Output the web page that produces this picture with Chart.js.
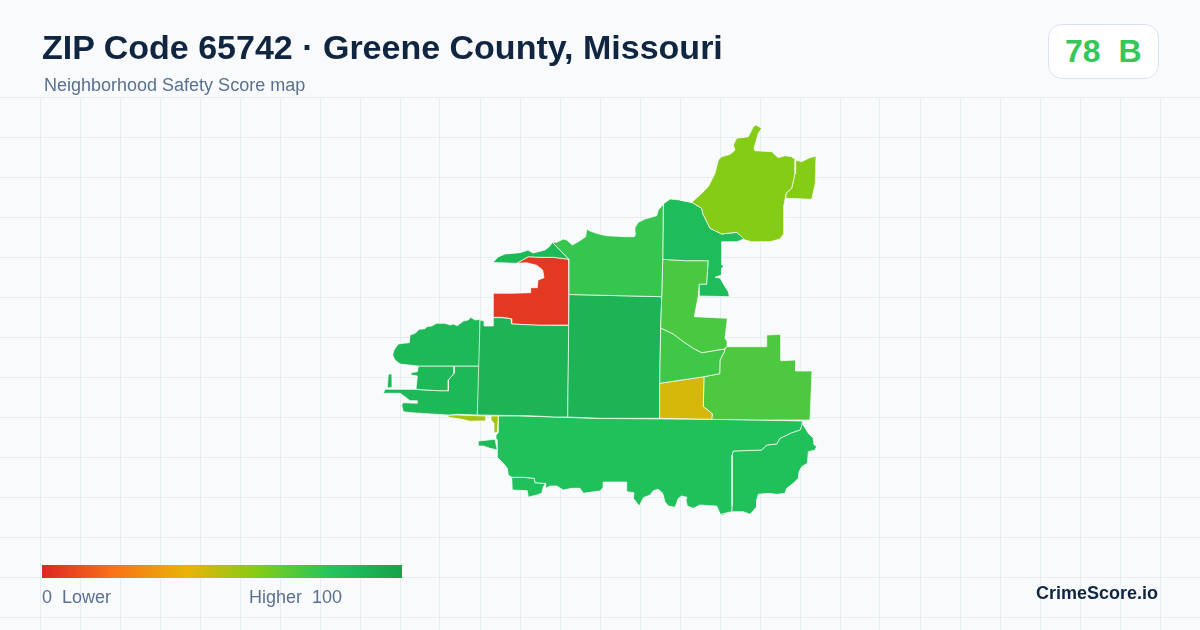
<!DOCTYPE html>
<html>
<head>
<meta charset="utf-8">
<title>ZIP Code 65742</title>
<script src="https://cdn.jsdelivr.net/npm/chart.js@4"></script>
<style>
  html, body { margin: 0; padding: 0; background: #f8fafc; }
  #wrap { position: relative; width: 1200px; height: 630px; overflow: hidden; font-family: "Liberation Sans", Arial, sans-serif; background: #f8fafc; }
  #mapChart { position: absolute; left: 0; top: 0; }
  .txt { position: absolute; white-space: pre; line-height: 1; }
  #title { left: 42px; top: 30px; font-size: 34px; font-weight: 700; color: #0f2540; }
  #subtitle { left: 44px; top: 76px; font-size: 18px; color: #5a7090; }
  #badge { position: absolute; left: 1048px; top: 24px; width: 109px; height: 53px; background: #fff; border: 1px solid #dde3ec; border-radius: 14px; }
  #score { left: 1065px; top: 35px; font-size: 32px; font-weight: 700; color: #34c759; }
  #bar { position: absolute; left: 42px; top: 565px; width: 360px; height: 13px; }
  #lo { left: 42px; top: 588px; font-size: 18px; color: #5a7090; }
  #hi { left: 249px; top: 588px; font-size: 18px; color: #5a7090; }
  #brand { left: 1036px; top: 584px; font-size: 18px; font-weight: 700; color: #0f2540; }
</style>
</head>
<body>
<div id="wrap">
  <canvas id="mapChart" width="1200" height="630"></canvas>
  <div class="txt" id="title">ZIP Code 65742 · Greene County, Missouri</div>
  <div class="txt" id="subtitle">Neighborhood Safety Score map</div>
  <div id="badge"></div>
  <div class="txt" id="score">78  B</div>
  <div id="bar"></div>
  <div class="txt" id="lo">0  Lower</div>
  <div class="txt" id="hi">Higher  100</div>
  <div class="txt" id="brand">CrimeScore.io</div>
</div>
<script>
// Map data, tract outlines as [x, y]
const redTract = [[516.7,263.3],[528.3,256.7],[540,257.3],[553.3,257.3],[569,259.3],[569,325],[540,325.3],[511.7,324],[511,318.7],[501.7,317.3],[493.3,317.3],[493.3,293.3],[511.7,293.3],[530.7,292.7],[530.7,287.7],[537.3,287.7],[538,280],[544,277.7],[542.7,270],[536.7,265.3],[526.7,262.7]];
const riverSliver = [[493,262.5],[498,257],[505,254],[520,252.7],[528,250],[533,253],[545,250],[550,246],[552.3,242.3],[569,259.3],[553.3,257.3],[540,257.3],[528.3,256.7],[516.7,263.3]];
const northTract = [[552.3,242.3],[556.7,242.3],[563.3,239],[566.7,240],[572.3,245],[578.3,241.7],[585.7,236.7],[586.7,229.3],[591.7,231.7],[600,234.3],[606.7,235.7],[625,236.7],[634.3,236.7],[635.7,233.3],[635,227.7],[638.3,222.3],[645,219],[656.7,215.7],[658.3,210],[663.3,204.3],[662.7,259.3],[661.7,296.7],[569,294.5],[569,259.3]];
const centerRight = [[569,294.5],[661.7,296.7],[660.7,328],[659.7,383.3],[659.7,418.3],[600,418.3],[567.7,417]];
const centerLeft = [[480,320],[484.3,321],[484.3,326],[493.3,326],[493.3,317.7],[501.7,317.7],[511,318.7],[511.7,324],[540,325.3],[569,325.5],[567.7,417],[555,417],[528.3,415.7],[477.3,415]];
const westBlob = [[480,319.3],[475,320],[470.7,317.3],[468.3,320],[463.3,321],[457.3,325.7],[453.3,324],[450,325],[445,323.3],[436.7,323.3],[431.7,326],[426.7,326.7],[425,328.7],[419.3,329.3],[415,333.3],[410,335],[409.3,342.7],[403.3,343.3],[398.3,344],[394,350],[392.7,355],[395,360],[400,364],[418.3,366],[454,366],[480,366]];
const westInner = [[418.3,366],[454,366],[454,373.3],[448.3,380],[448.3,390.7],[438.3,390.7],[416,389.3],[417.3,376],[411.7,375],[411,372.7],[417.3,371.7]];
const westLower = [[454,366],[480,366],[477.3,415],[458,414.3],[448.3,415],[420,413.3],[411.7,412.7],[403.3,411.7],[401.7,405],[403.3,402.7],[417.3,403.3],[417.3,400.7],[410,400.7],[405,396.7],[400,393.3],[383.3,393.3],[385,389.3],[413.3,389.3],[438.3,390.7],[448.3,390.7],[448.3,380],[454,373.3]];
const westIsland = [[388.3,374],[392,374],[392.3,387.3],[387.3,388]];
const limeSliverA = [[448.3,415],[458.3,415],[486,416],[486,421],[476.7,421],[470,421.3],[461.7,419.3],[448.3,417.3]];
const limeSliverB = [[491,416],[498.3,416],[497.3,432.7],[494.3,432.7],[494,423.3],[491,420]];
const southIsland = [[478.3,441],[495,439.3],[497.3,450],[490,448.3],[483.3,446],[478.3,446]];
const southMain = [[498.3,416],[520,416],[555,417],[590.7,418.3],[666.7,419],[711.7,419.3],[758.3,420],[802.3,421],[801.7,426],[800,430],[791.7,432.7],[780,438.3],[776.7,444],[766.7,445],[761.7,450],[733.3,451],[732,455],[732,506],[731.7,511.7],[721.7,514],[720.7,515],[716.7,506],[710,505.7],[700,505],[693.3,508.3],[687.3,506],[686,500],[687,497.3],[681.7,496],[678.3,498.3],[675,507.3],[668.3,506],[665,501.7],[662.7,493.3],[658.3,489.3],[653.3,490.7],[650,495],[643.3,497.7],[639.3,506],[633.3,498.3],[634,492.7],[626.7,491.7],[626.7,482],[603.3,482],[603.3,487.3],[600,491],[590,492.3],[583.3,493.3],[580,488.3],[571.7,488.3],[563.3,490],[556.7,486],[550,486],[545.7,488.3],[545.7,483.3],[543.3,483.3],[535,482.7],[534.3,478.3],[523.3,477.3],[511.7,477.3],[508.3,475],[507.3,468.3],[503.3,463.3],[497.3,457.3],[497.3,440],[496,438.3],[496,435],[498.3,432.7]];
const southEast = [[802.3,421],[803.3,425],[808.3,433.3],[813.3,438.3],[814,445],[816.7,446],[815,450],[808.3,451.7],[807.3,463.3],[801.7,466.7],[799,471.7],[798.3,478.3],[793.3,483.3],[786.7,488.3],[785,493.3],[776.7,494.3],[768.3,493.3],[758.3,494.3],[756.7,500],[756.7,506.7],[750,514.3],[743.3,511.7],[733.3,511.7],[721.7,514],[720.7,516],[731.7,511.7],[732,506],[732,455],[733.3,451],[761.7,450],[766.7,445],[776.7,444],[780,438.3],[791.7,432.7],[800,430],[801.7,426]];
const southWest = [[511.7,477.3],[523.3,477.3],[534.3,478.3],[535,482.7],[543.3,483.3],[545.7,483.3],[543.3,486.7],[541.7,493.3],[536.7,495],[530,496.7],[528.3,497.3],[527.3,490.7],[512.3,490]];
const northMid = [[663.3,204],[670,199],[680,200],[691.7,202.3],[701.7,208.3],[702.7,213.3],[710,228.3],[721.7,234],[736.7,232.3],[745,238.5],[737,241.7],[722,241.7],[722,265],[724,266],[721.7,268],[721.7,275],[715,277.3],[720,278],[725,286.7],[728.3,291.7],[729.3,296.7],[699.3,296],[699.3,284.3],[706.7,284.3],[708.3,260.7],[685,260.7],[662.7,259.3]];
const midGreen = [[662.7,259.3],[685,260.7],[708.3,260.7],[706.7,284.3],[699.3,284.3],[698.3,296],[694.3,316.7],[727.3,318.3],[725,338.3],[727.3,341.7],[727.3,346.7],[724,349],[701.7,352.7],[693.3,348.3],[683.3,341.7],[673.3,334],[660.7,328],[661.7,296.7]];
const lowerGreen = [[660.7,328],[673.3,334],[683.3,341.7],[693.3,348.3],[701.7,352.7],[724,349],[724.7,351],[720,360],[719.7,373.7],[704,376.7],[659.7,383.3]];
const yellowTract = [[659.7,383.3],[704,376.7],[703.3,406.7],[710,411.7],[712.3,414],[711.7,419.3],[659.7,418.3]];
const eastTract = [[727.3,346.7],[766.7,346.7],[766.7,335],[781,334.3],[781,360.7],[795.7,360],[795.7,371],[812,371],[810,420],[758.3,420],[711.7,419.3],[712.3,414],[710,411.7],[703.3,406.7],[704,376.7],[719.7,373.7],[720,360],[724.7,351],[724,349]];
const limeBig = [[680,200],[691.7,202.3],[700,195],[708.3,186.7],[715,173.3],[718.3,160],[721.7,156.7],[730,154.3],[735,150],[733.3,145],[736.7,138.3],[748.3,136.7],[753.3,126.7],[756,125],[761.7,128.3],[758.3,133.3],[754,148.3],[755,150.7],[771.7,151.7],[778.3,157.7],[785,155.7],[791.7,156.7],[795.7,160],[795,173.3],[791.7,188.3],[786,193.3],[784,205],[784,233.3],[780,239],[770,241.7],[751.7,241.7],[745,240],[736.7,232.3],[721.7,234],[710,228.3],[702.7,213.3],[701.7,208.3],[691.7,202.3]];
const limeStrip = [[795.7,160],[801.7,161.7],[808.3,158.3],[816,156],[815.3,183.3],[811.7,199.3],[786,198.3],[786,193.3],[791.7,188.3],[795,173.3]];

const zones = [limeBig, limeStrip, northTract, riverSliver, northMid, midGreen, lowerGreen, yellowTract, eastTract, centerRight, centerLeft, westBlob, westInner, westLower, westIsland, limeSliverA, limeSliverB, southIsland, southMain, southEast, southWest, redTract];
const zoneScores = [60, 60, 76, 87, 85, 72, 74, 44, 71, 90, 90, 87, 87, 87, 87, 54, 54, 86, 83, 83, 83, 5];

// Colour ramp, 0 to 100 in equal steps
const rampColors = [[220,38,38],[249,115,22],[234,179,8],[132,204,22],[34,197,94],[22,163,74]];

// Grid
const gridX = [40,80,120,160,200,240,280,320,360,400,440,480,520,560,600,640,680,720,760,800,840,880,920,960,1000,1040,1080,1120,1160];
const gridY = [97,137,177,217,257,297,337,377,417,457,497,537,577,617];

// Score to ramp colour
function scoreColor(score) {
  const pos = score / 20;
  const i = Math.min(Math.floor(pos), rampColors.length - 2);
  const t = pos - i;
  const c = rampColors[i].map((v, k) => Math.round(v + (rampColors[i + 1][k] - v) * t));
  return `rgb(${c[0]},${c[1]},${c[2]})`;
}

// Legend bar
document.getElementById('bar').style.background =
  'linear-gradient(to right,' + rampColors.map((c) => `rgb(${c.join(',')})`).join(',') + ')';

const ctx = document.getElementById('mapChart').getContext('2d');

new Chart(ctx, {
  type: 'scatter',
  data: {
    datasets: zones.map((zone, i) => ({
      data: zone.concat([zone[0]]).map((p) => ({ x: p[0], y: p[1] })),
      showLine: true,
      fill: 'shape',
      tension: 0,
      pointRadius: 0,
      borderWidth: 1,
      borderColor: 'rgba(255,255,255,0.7)',
      backgroundColor: scoreColor(zoneScores[i]),
    })),
  },
  options: {
    responsive: false,
    animation: false,
    layout: { padding: { top: 97 } },
    plugins: { legend: { display: false }, tooltip: { enabled: false } },
    scales: {
      x: {
        type: 'linear',
        min: 0,
        max: 1200,
        afterBuildTicks: (scale) => { scale.ticks = gridX.map((v) => ({ value: v })); },
        grid: { color: '#e4eef2', drawTicks: false },
        border: { display: false },
        ticks: { display: false },
      },
      y: {
        type: 'linear',
        reverse: true,
        min: 97,
        max: 630,
        afterBuildTicks: (scale) => { scale.ticks = gridY.map((v) => ({ value: v })); },
        grid: { color: '#e4eef2', drawTicks: false },
        border: { display: false },
        ticks: { display: false },
      },
    },
  },
});
</script>
</body>
</html>
